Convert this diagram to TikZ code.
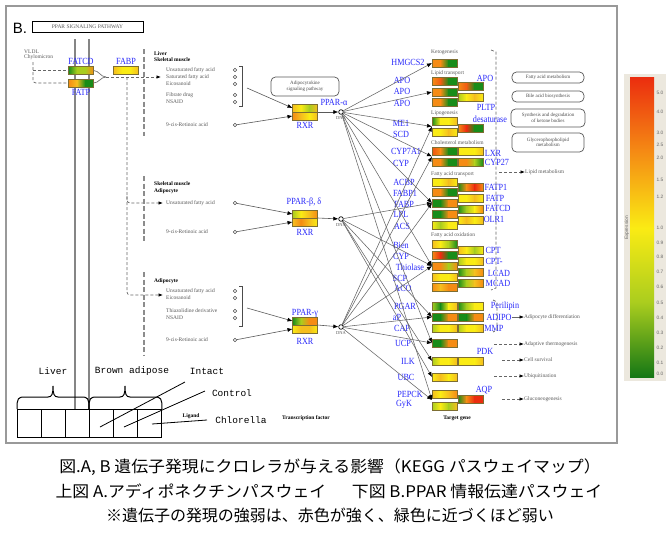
\documentclass[tikz,border=0pt]{standalone}
\usepackage{fontspec}
\setmainfont{Liberation Serif}
\newfontfamily\cjk{Noto Sans CJK JP}
\newfontfamily\cjkw[FakeStretch=1.055]{Noto Sans CJK JP}
\newfontfamily\condserif[FakeStretch=0.87]{Liberation Serif}
\newfontfamily\monof{Liberation Mono}
\newfontfamily\sansf{Liberation Sans}
\usetikzlibrary{arrows.meta,calc}
\definecolor{kG}{RGB}{25,140,25}
\definecolor{kY}{RGB}{250,235,20}
\definecolor{kO}{RGB}{245,140,20}
\definecolor{kR}{RGB}{235,45,15}
\definecolor{kL}{RGB}{170,205,30}
\definecolor{kA}{RGB}{245,190,30}
\definecolor{kbox}{RGB}{125,110,50}
\definecolor{kblue}{RGB}{40,40,250}
\definecolor{kbeige}{RGB}{236,232,222}
\newcommand\kfs{\fontsize{5.5}{6}\selectfont}
\newcommand\gb[7]{%
 \shade[left color=#4,right color=#5] ({#2-12.5},{#3-4}) rectangle ({#2-4.1667},{#3+4});
 \shade[left color=#5,right color=#6] ({#2-4.1667},{#3-4}) rectangle ({#2+4.1667},{#3+4});
 \shade[left color=#6,right color=#7] ({#2+4.1667},{#3-4}) rectangle ({#2+12.5},{#3+4});
 \node[gene] (#1) at (#2,#3) {};}
\newcommand\lig[3]{\node[tiny] (t#1) at (166,#2) {#3}; \node[lig] (#1) at (235,#2) {};}
\newcommand\brc[3]{%
 \draw[lgd] (#1,409) .. controls (#1,398) and ({#1+1},397) .. ({#1+8},397) -- ({#2-5},397)
  .. controls ({#2-1},397) and (#2,394) .. (#2,386) .. controls (#2,394) and ({#2+1},397) .. ({#2+5},397)
  -- ({#3-8},397) .. controls ({#3-1},397) and (#3,398) .. (#3,409);}
\tikzset{
 gene/.style={draw=kbox, line width=0.8pt, minimum width=25pt, minimum height=8pt, inner sep=0pt, outer sep=0pt},
 glab/.style={text=kblue, font=\condserif\fontsize{9.4}{9.4}\selectfont, inner sep=0pt},
 tiny/.style={anchor=west, text=black!65, font=\kfs, inner sep=0pt},
 tinyb/.style={anchor=west, text=black, font=\bfseries\kfs, inner sep=0pt},
 tinyc/.style={text=black!65, font=\fontsize{4.5}{5}\selectfont, inner sep=0pt},
 lig/.style={circle, draw=black!70, line width=0.5pt, minimum size=3.6pt, inner sep=0pt},
 dna/.style={circle, draw=black, line width=0.7pt, minimum size=4.6pt, inner sep=0pt},
 blacktip/.style={-{Latex[length=5pt,width=4pt,color=black]}},
 tconn/.style={draw=black!60, line width=0.55pt, blacktip},
 lconn/.style={draw=black!65, line width=0.6pt, blacktip},
 gline/.style={draw=black!55, line width=0.7pt},
 dline/.style={draw=black!60, line width=0.7pt, dash pattern=on 3pt off 2pt},
 darr/.style={dline, -{Latex[length=4.5pt,width=3.5pt,color=black]}},
 sarr/.style={draw=black!60, line width=0.6pt, -{Latex[length=4.5pt,width=3.5pt,color=black]}},
 sepline/.style={draw=black!45, line width=1.3pt, dash pattern=on 5pt off 2.5pt},
 memb/.style={draw=black!48, line width=2.6pt},
 brk/.style={draw=black!70, line width=0.6pt},
 rbox/.style={draw=black!65, rounded corners=4.5pt, line width=0.7pt, inner sep=0.5pt, align=center, text=black!70, font=\fontsize{5}{5.5}\selectfont},
 lgd/.style={draw=black, line width=1pt},
 cell/.style={draw=black, line width=1pt, minimum width=24pt, minimum height=28pt, inner sep=0pt},
 mono/.style={font=\monof\fontsize{9.5}{9.5}\selectfont, inner sep=0pt},
 capt/.style={font=\cjk\fontsize{16}{16}\selectfont, inner sep=0pt},
 captw/.style={font=\cjkw\fontsize{16}{16}\selectfont, inner sep=0pt},
 cbl/.style={text=black!60, font=\sansf\fontsize{4.8}{5}\selectfont, inner sep=0pt},
}
\begin{document}
\begin{tikzpicture}[x=1pt,y=-1pt]
\useasboundingbox (0,0) rectangle (670,533);
\fill[white] (0,0) rectangle (670,533);
% frame
\draw[black!40, line width=1.3pt] (6,6) rectangle (617,443);
\node[font=\sansf\fontsize{15}{15}\selectfont, inner sep=0pt] (blab) at (20,28) {B.};
\node[draw, line width=1pt, minimum width=111pt, minimum height=11pt, inner sep=0pt, font=\fontsize{5.5}{6}\selectfont, text=black!65] (ttl) at (87.5,26.5) {PPAR SIGNALING PATHWAY};
% membrane
\draw[memb] (75,39) -- (75,409);
\draw[memb] (89,39) -- (89,409);
% VLDL and transporters
\node[tiny] (vldl) at (24,51.5) {VLDL};
\node[tiny] (chylo) at (24,57.5) {Chylomicron};
\gb{fatcd}{81}{70.5}{kG}{kL}{kL}{kO}
\gb{fatp}{81}{83}{kO}{kA}{kG}{kG}
\gb{fabp}{126}{70.5}{kA}{kY}{kY}{kA}
\node[glab] (nfatcd) at (81,61) {FATCD};
\node[glab] (nfatp) at (81,92) {FATP};
\node[glab] (nfabp) at (126,61) {FABP};
\coordinate (v0) at (33,62);
\coordinate (v1) at (33,70.5);
\draw[dline, rounded corners=3pt] (v0) |- (fatp.west);
\draw[dline] (v1) -- (fatcd.west);
\coordinate (mrg) at (106,77);
\draw[gline] (fatcd.east) to[out=0,in=180] (mrg);
\draw[gline] (fatp.east) to[out=0,in=180] (mrg);
\coordinate (liv) at (161,77);
\draw[darr] (mrg) -- (liv);
\coordinate (vt) at (127,77);
\coordinate (vt2) at (127,196);
\coordinate (skm) at (163,203);
\coordinate (adp) at (163,295);
\draw[darr, rounded corners=3pt] (vt) |- (adp);
\draw[darr, rounded corners=3pt] (vt2) |- (skm);
% separators
\draw[sepline] (144,49) -- (144,136);
\draw[sepline] (144,176) -- (144,242);
\draw[sepline] (144,272) -- (144,356);
% ligands: liver
\node[tinyb] (hLiv) at (154,54) {Liver};
\node[tinyb] (hSk1) at (154,60) {Skeletal muscle};
\lig{l1}{70}{Unsaturated fatty acid}
\lig{l2}{77}{Saturated fatty acid}
\lig{l3}{84}{Eicosanoid}
\lig{l4}{95}{Fibrate drug}
\lig{l5}{102}{NSAID}
\lig{l6}{125}{9-cis-Retinoic acid}
\draw[brk] (239,66) -| (242,106) -- (239,106);
\coordinate (brA) at (247,88);
% ligands: skeletal muscle / adipocyte
\node[tinyb] (hSk2) at (154,184) {Skeletal muscle};
\node[tinyb] (hAd1) at (154,191) {Adipocyte};
\lig{m1}{203}{Unsaturated fatty acid}
\lig{m2}{232}{9-cis-Retinoic acid}
% ligands: adipocyte
\node[tinyb] (hAd2) at (154,281) {Adipocyte};
\lig{a1}{291}{Unsaturated fatty acid}
\lig{a2}{298}{Eicosanoid}
\lig{a3}{311}{Thiazolidine derivative}
\lig{a4}{318}{NSAID}
\lig{a5}{340}{9-cis-Retinoic acid}
\draw[brk] (239,286) -| (242,326) -- (239,326);
\coordinate (brG) at (247,308);
% adipocytokine box
\node[rbox, minimum width=68pt, minimum height=19pt] (adk) at (305,86.5) {Adipocytokine\\signaling pathway};
% PPAR / RXR
\gb{pAt}{305}{108}{kA}{kY}{kL}{kA}
\gb{pAb}{305}{116}{kO}{kA}{kY}{kA}
\gb{pBt}{305}{214}{kL}{kY}{kA}{kO}
\gb{pBb}{305}{222}{kA}{kO}{kA}{kY}
\gb{pGt}{305}{321}{kG}{kL}{kO}{kO}
\gb{pGb}{305}{329}{kY}{kA}{kA}{kY}
\node[glab] (nPA) at (334,102) {PPAR-α};
\node[glab] (nRA) at (305,125) {RXR};
\node[glab] (nPB) at (304,202) {PPAR-β, δ};
\node[glab] (nRB) at (305,232) {RXR};
\node[glab] (nPG) at (305,313) {PPAR-γ};
\node[glab] (nRG) at (305,341) {RXR};
\node[dna] (dA) at (341,112) {};
\node[dna] (dB) at (341,219) {};
\node[dna] (dG) at (341,327) {};
\node[tinyc] (xA) at (341,118.5) {DNA};
\node[tinyc] (xB) at (341,225.5) {DNA};
\node[tinyc] (xG) at (341,333.5) {DNA};
\draw[lconn] (brA) -- (pAt.west);
\draw[lconn] (l6) -- (pAb.west);
\draw[lconn] (m1) -- (pBt.west);
\draw[lconn] (m2) -- (pBb.west);
\draw[lconn] (brG) -- (pGt.west);
\draw[lconn] (a5) -- (pGb.west);
\draw[lconn] (pAt.south east) -- (dA);
\draw[lconn] (pBt.south east) -- (dB);
\draw[lconn] (pGt.south east) -- (dG);
% target gene section labels
\node[tiny] (sK) at (431,52) {Ketogenesis};
\node[tiny] (sL) at (431,73) {Lipid transport};
\node[tiny] (sG) at (431,113) {Lipogenesis};
\node[tiny] (sC) at (431,143) {Cholesterol metabolism};
\node[tiny] (sT) at (431,174) {Fatty acid transport};
\node[tiny] (sO) at (431,235) {Fatty acid oxidation};
% column 1 boxes
\gb{bHM}{444.5}{63}{kO}{kO}{kG}{kG}
\gb{bAP1}{444.5}{81}{kO}{kR!50!kO}{kG}{kG}
\gb{bAP2}{444.5}{92}{kO}{kO}{kG}{kG}
\gb{bAP3}{444.5}{102}{kO}{kO}{kG}{kG}
\gb{bME}{444.5}{121}{kG}{kY}{kY}{kA}
\gb{bSCD}{444.5}{132}{kY}{kY}{kA}{kY}
\gb{bC7}{444.5}{151}{kR!60!kO}{kO}{kG}{kG}
\gb{bCY}{444.5}{162}{kO}{kO}{kG}{kG}
\gb{bACBP}{444.5}{182}{kY}{kY}{kA}{kY}
\gb{bFB1}{444.5}{192}{kO}{kO}{kG}{kG}
\gb{bFB}{444.5}{203}{kG}{kG}{kO}{kO}
\gb{bLPL}{444.5}{214}{kG}{kG}{kO}{kO}
\gb{bACS}{444.5}{225}{kY}{kL}{kY}{kY}
\gb{bBI}{444.5}{244}{kA}{kY}{kL}{kG}
\gb{bCP}{444.5}{255}{kO}{kR}{kG}{kG}
\gb{bTH}{444.5}{266}{kO}{kO}{kL}{kO}
\gb{bSCP}{444.5}{277}{kA}{kY}{kY}{kA}
\gb{bACO}{444.5}{287}{kO}{kA}{kO}{kO}
\gb{bPG}{444.5}{306}{kL}{kG}{kY}{kA}
\gb{bAPP}{444.5}{317}{kG}{kG}{kO}{kO}
\gb{bCAP}{444.5}{328}{kL}{kY}{kY}{kA}
\gb{bUCP}{444.5}{343}{kG}{kG}{kO}{kO}
\gb{bILK}{444.5}{361}{kL}{kY}{kY}{kA}
\gb{bUBC}{444.5}{377}{kY}{kA}{kY}{kA}
\gb{bPE}{444.5}{394}{kA}{kY}{kA}{kO}
\gb{bGY}{444.5}{406}{kL}{kY}{kL}{kA}
% column 2 boxes
\gb{bAPOr}{470.5}{86}{kO}{kR!50!kO}{kG}{kG}
\gb{bPL}{470.5}{97}{kL}{kY}{kA}{kY}
\gb{bDS}{470.5}{128}{kO}{kR}{kG}{kG}
\gb{bLXR}{470.5}{151}{kY}{kY}{kY}{kA}
\gb{bC27}{470.5}{162}{kO}{kO}{kL}{kG}
\gb{bFT1}{470.5}{187}{kG}{kO}{kR}{kO}
\gb{bFTP}{470.5}{198}{kY}{kY}{kA}{kY}
\gb{bFCD}{470.5}{209}{kG}{kL}{kY}{kO}
\gb{bOL}{470.5}{220}{kY}{kA}{kY}{kA}
\gb{bCPT}{470.5}{250}{kA}{kY}{kL}{kY}
\gb{bCPT2}{470.5}{261}{kL}{kY}{kY}{kA}
\gb{bLC}{470.5}{272}{kG}{kL}{kA}{kO}
\gb{bMC}{470.5}{283}{kG}{kL}{kA}{kO}
\gb{bPER}{470.5}{306}{kG}{kL}{kY}{kY}
\gb{bADI}{470.5}{317}{kG}{kG}{kO}{kO}
\gb{bMMP}{470.5}{328}{kL}{kY}{kY}{kA}
\gb{bPDK}{470.5}{361}{kY}{kY}{kY}{kA}
\gb{bAQP}{470.5}{399}{kG}{kO}{kR}{kR}
% blue labels left
\node[glab] (nHM) at (408,62) {HMGCS2};
\node[glab] (nAP1) at (402,80) {APO};
\node[glab] (nAP2) at (402,91) {APO};
\node[glab] (nAP3) at (402,103) {APO};
\node[glab] (nME) at (401,123) {ME1};
\node[glab] (nSCD) at (401,134) {SCD};
\node[glab] (nC7) at (406,151) {CYP7A1};
\node[glab] (nCY) at (401,163) {CYP};
\node[glab] (nACBP) at (404,182) {ACBP};
\node[glab] (nFB1) at (405,193) {FABP1};
\node[glab] (nFB) at (404,204) {FABP};
\node[glab] (nLPL) at (401,214) {LPL};
\node[glab] (nACS) at (402,226) {ACS};
\node[glab] (nBI) at (401,245) {Bien};
\node[glab] (nCP) at (401,256) {CYP};
\node[glab] (nTH) at (410,267) {Thiolase};
\node[glab] (nSCP) at (400,278) {SCP};
\node[glab] (nACO) at (403,288) {ACO};
\node[glab] (nPG) at (405,306) {PGAR};
\node[glab] (nAPP) at (397,317) {aP};
\node[glab] (nCAP) at (402,328) {CAP};
\node[glab] (nUCP) at (403,343) {UCP};
\node[glab] (nILK) at (408,361) {ILK};
\node[glab] (nUBC) at (406,377) {UBC};
\node[glab] (nPE) at (410,394) {PEPCK};
\node[glab] (nGY) at (404,404) {GyK};
% blue labels right
\node[glab] (nAPOr) at (485,78) {APO};
\node[glab] (nPL) at (486,107) {PLTP};
\node[glab] (nDS) at (490,119) {desaturase};
\node[glab] (nLXR) at (493,153) {LXR};
\node[glab] (nC27) at (497,162) {CYP27};
\node[glab] (nFT1) at (496,187) {FATP1};
\node[glab] (nFTP) at (495,198) {FATP};
\node[glab] (nFCD) at (498,208) {FATCD};
\node[glab] (nOL) at (494,219) {OLR1};
\node[glab] (nCPT) at (493,250) {CPT};
\node[glab] (nCPT2) at (494,261) {CPT-};
\node[glab] (nLC) at (499,273) {LCAD};
\node[glab] (nMC) at (498,283) {MCAD};
\node[glab] (nPER) at (505,306) {Perilipin};
\node[glab] (nADI) at (499,317) {ADIPO};
\node[glab] (nMMP) at (494,328) {MMP};
\node[glab] (nPDK) at (485,351) {PDK};
\node[glab] (nAQP) at (484,390) {AQP};
% target convergence points
\coordinate (tLIP) at ($(bME.west)!0.5!(bSCD.west)$);
\coordinate (tCHO) at ($(bC7.west)!0.5!(bCY.west)$);
\coordinate (tGLU) at ($(bPE.west)!0.5!(bGY.west)$);
\foreach \t in {bHM.west, bAP2.west, tLIP, tCHO, bFB.west, bTH.west, bUCP.west, tGLU}
  \draw[tconn] (dA) -- (\t);
\foreach \t in {bFB.west, bTH.west, bAPP.west, bILK.west, bUBC.west}
  \draw[tconn] (dB) -- (\t);
\foreach \t in {tLIP, tCHO, bFB.west, bTH.west, bAPP.west, bUCP.west, tGLU}
  \draw[tconn] (dG) -- (\t);
% right brackets and outcomes
\draw[dline] (491,50) -- (496,52) -- (496,288) -- (491,290);
\draw[dline] (493,300) -- (497,302) -- (497,330) -- (493,332);
\node[rbox, minimum width=72pt, minimum height=11pt] (rb1) at (548,77.5) {Fatty acid metabolism};
\node[rbox, minimum width=72pt, minimum height=11pt] (rb2) at (548,96.5) {Bile acid biosynthesis};
\node[rbox, minimum width=74pt, minimum height=18pt] (rb3) at (548,118) {Synthesis and degradation\\of ketone bodies};
\node[rbox, minimum width=72pt, minimum height=19pt] (rb4) at (548,142.5) {Glycerophospholipid\\metabolism};
\coordinate (oLm) at (499,172);
\node[tiny] (lm) at (525,172) {Lipid metabolism};
\draw[darr] (oLm) -- (lm.west);
\node[tiny] (odf) at (524,317) {Adipocyte differentiation};
\draw[sarr] (nADI.east) -- (odf.west);
\coordinate (oAt) at (494,344);
\node[tiny] (oth) at (524,344) {Adaptive thermogenesis};
\draw[darr] (oAt) -- (oth.west);
\coordinate (oCs) at (502,360);
\node[tiny] (ocs) at (524,360) {Cell survival};
\draw[darr] (oCs) -- (ocs.west);
\coordinate (oUb) at (494,376);
\node[tiny] (oub) at (524,376) {Ubiquitination};
\draw[darr] (oUb) -- (oub.west);
\coordinate (oGl) at (502,399);
\node[tiny] (ogl) at (524,399) {Gluconeogenesis};
\draw[darr] (oGl) -- (ogl.west);
% bottom labels
\node[tinyb, anchor=center] (bLig) at (191,416) {Ligand};
\node[tinyb, anchor=center] (bTF) at (306,418) {Transcription factor};
\node[tinyb, anchor=center] (bTG) at (457,418) {Target gene};
% legend table
\node[cell] (cL1) at (29,423) {};
\node[cell] (cL2) at (53,423) {};
\node[cell] (cL3) at (77,423) {};
\node[cell] (cB1) at (101,423) {};
\node[cell] (cB2) at (125,423) {};
\node[cell] (cB3) at (149.5,423) {};
\brc{17}{53}{89}
\brc{89}{125}{162}
\node[mono] (nLiver) at (53,371) {Liver};
\node[mono] (nBrown) at (132,371) {Brown adipose};
\node[mono] (nIntact) at (207,371) {Intact};
\node[mono] (nControl) at (232,393) {Control};
\node[mono] (nChlor) at (241,420) {Chlorella};
\coordinate (pI0) at (185,382);
\coordinate (pI1) at (100,427);
\coordinate (pC0) at (205,391);
\coordinate (pC1) at (124,427);
\coordinate (pH0) at (207,420);
\coordinate (pH1) at (152,424);
\draw[line width=0.8pt] (pI0) -- (pI1);
\draw[line width=0.8pt] (pC0) -- (pC1);
\draw[line width=0.8pt] (pH0) -- (pH1);
% colour bar
\fill[kbeige] (624,74) rectangle (666,381);
\shade[top color=kR, bottom color=kY, middle color=kO] (630,77) rectangle (654,228);
\shade[top color=kY, bottom color=kG!85!black, middle color=kL] (630,228) rectangle (654,377);
\foreach \v/\yy in {5.0/93,4.0/112,3.0/133,2.5/145,2.0/158,1.5/180,1.2/197,1.0/228,0.9/243,0.8/257,0.7/272,0.6/287,0.5/303,0.4/318,0.3/333,0.2/348,0.1/363,0.0/374}
  \node[cbl] at (660,\yy) {\v};
\node[cbl, rotate=90] (expr) at (627,228) {Expression};
% caption
\node[captw] (c1) at (330,467) {図.A, B 遺伝子発現にクロレラが与える影響（KEGG パスウェイマップ）};
\node[captw] (c2) at (329,491) {上図 A.アディポネクチンパスウェイ\hspace{1.6em}下図 B.PPAR 情報伝達パスウェイ};
\node[capt] (c3) at (330,515) {※遺伝子の発現の強弱は、赤色が強く、緑色に近づくほど弱い};
\end{tikzpicture}
\end{document}
